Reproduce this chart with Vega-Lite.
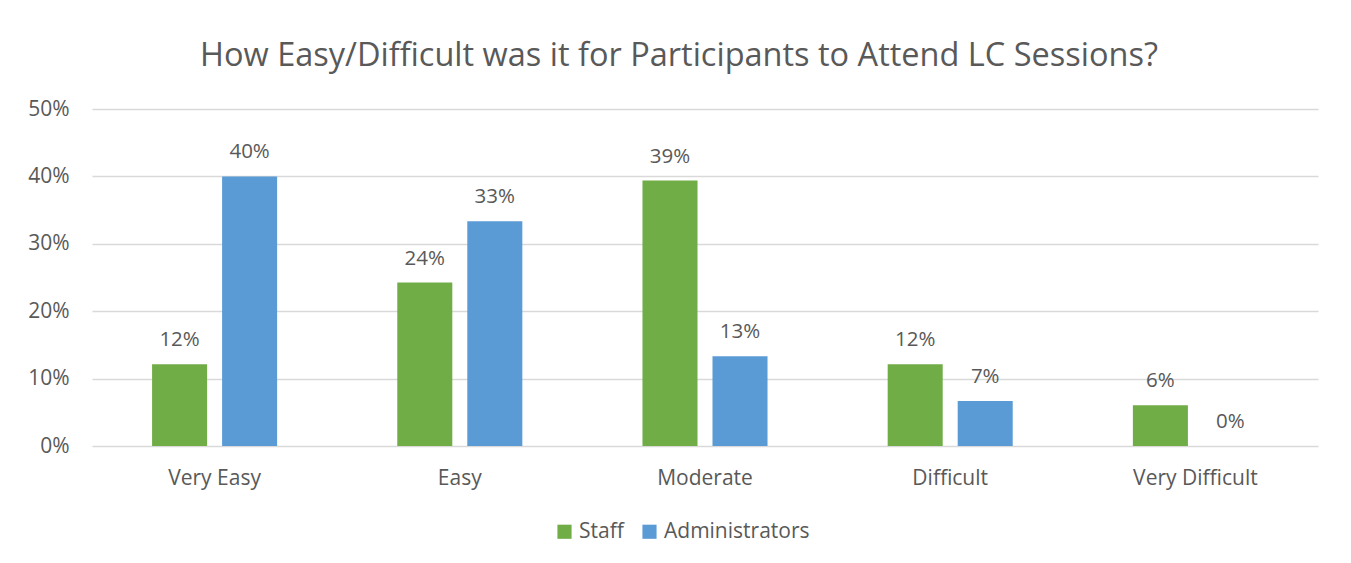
{
  "$schema": "https://vega.github.io/schema/vega-lite/v6.json",
  "autosize": {"type": "none"},
  "width": 1226,
  "height": 337,
  "padding": {"left": 92, "top": 109, "right": 33, "bottom": 117},
  "background": "white",
  "config": {
    "view": {"stroke": null},
    "font": "Open Sans",
    "axis": {"labelColor": "#595959", "labelFont": "Open Sans", "labelFontSize": 21},
    "legend": {"labelColor": "#595959", "labelFont": "Open Sans", "labelFontSize": 21}
  },
  "title": {
    "text": "How Easy/Difficult was it for Participants to Attend LC Sessions?",
    "fontSize": 32.5,
    "font": "Open Sans",
    "fontWeight": "normal",
    "color": "#595959",
    "anchor": "middle",
    "dx": -26,
    "offset": 26
  },
  "data": {
    "values": [
      {"category": "Very Easy", "group": "Staff", "value": 0.1212},
      {"category": "Very Easy", "group": "Administrators", "value": 0.4},
      {"category": "Easy", "group": "Staff", "value": 0.2424},
      {"category": "Easy", "group": "Administrators", "value": 0.3333},
      {"category": "Moderate", "group": "Staff", "value": 0.3939},
      {"category": "Moderate", "group": "Administrators", "value": 0.1333},
      {"category": "Difficult", "group": "Staff", "value": 0.1212},
      {"category": "Difficult", "group": "Administrators", "value": 0.0667},
      {"category": "Very Difficult", "group": "Staff", "value": 0.0606},
      {"category": "Very Difficult", "group": "Administrators", "value": 0.0}
    ]
  },
  "encoding": {
    "x": {
      "field": "category",
      "type": "nominal",
      "sort": ["Very Easy", "Easy", "Moderate", "Difficult", "Very Difficult"],
      "scale": {"paddingInner": 0.49, "paddingOuter": 0.245},
      "axis": {"title": null, "labelAngle": 0, "ticks": false, "domain": false, "labelPadding": 21}
    },
    "xOffset": {
      "field": "group",
      "type": "nominal",
      "sort": ["Staff", "Administrators"],
      "scale": {"paddingInner": 0.214, "paddingOuter": 0}
    },
    "y": {
      "field": "value",
      "type": "quantitative",
      "scale": {"domain": [0, 0.5], "nice": false},
      "axis": {
        "title": null,
        "format": ".0%",
        "values": [0, 0.1, 0.2, 0.3, 0.4, 0.5],
        "ticks": false,
        "domain": false,
        "labelPadding": 23,
        "gridColor": "#d9d9d9",
        "gridWidth": 1.5
      }
    }
  },
  "layer": [
    {
      "mark": {"type": "bar"},
      "encoding": {
        "color": {
          "field": "group",
          "type": "nominal",
          "sort": ["Staff", "Administrators"],
          "scale": {"domain": ["Staff", "Administrators"], "range": ["#70ad47", "#5b9bd5"]},
          "legend": {
            "title": null,
            "orient": "none",
            "direction": "horizontal",
            "legendX": 462,
            "legendY": 412,
            "symbolType": "square",
            "symbolSize": 200,
            "symbolStrokeWidth": 0,
            "labelOffset": 4,
            "columnPadding": 15
          }
        }
      }
    },
    {
      "mark": {"type": "text", "baseline": "middle", "dy": -24, "color": "#595959", "fontSize": 20.5, "font": "Open Sans"},
      "encoding": {
        "text": {"field": "value", "type": "quantitative", "format": ".0%"}
      }
    }
  ]
}
